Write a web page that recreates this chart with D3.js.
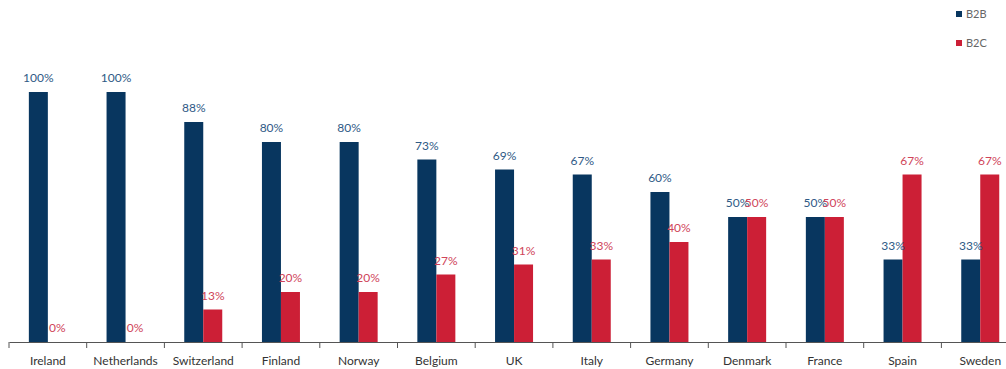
<!DOCTYPE html>
<html>
<head>
<meta charset="utf-8">
<script src="https://cdn.jsdelivr.net/npm/d3@7"></script>
<style>
  html, body { margin: 0; padding: 0; background: #fff; }
  svg { display: block; font-family: Lato, "Open Sans", sans-serif; }
</style>
</head>
<body>
<svg id="chart" width="1006" height="369"></svg>
<script>
// Share of B2B vs B2C by country
const countries = ["Ireland", "Netherlands", "Switzerland", "Finland", "Norway", "Belgium", "UK", "Italy", "Germany", "Denmark", "France", "Spain", "Sweden"];
const seriesNames = ["B2B", "B2C"];
const b2bValues = [100, 100, 88, 80, 80, 73, 69, 67, 60, 50, 50, 33, 33];
const b2cValues = [0, 0, 13, 20, 20, 27, 31, 33, 40, 50, 50, 67, 67];

const colors = { B2B: "#08365f", B2C: "#cc1f36" };
const labelColors = { B2B: "#2f5a86", B2C: "#d0455a" };

const svg = d3.select("#chart");
const rows = countries.map((c, i) => ({ country: c, B2B: b2bValues[i], B2C: b2cValues[i] }));

const step = 77.7;
const x0 = d3.scaleBand().domain(countries).range([9, 9 + step * countries.length]).paddingInner(0).paddingOuter(0);
const barW = 19;
const x1 = d3.scaleBand().domain(seriesNames)
  .range([x0.bandwidth() / 2 - barW, x0.bandwidth() / 2 + barW]).padding(0);
const y = d3.scaleLinear().domain([0, 100]).range([342, 92]);

// category axis along the bottom
const axis = d3.axisBottom(x0).tickSize(0).tickPadding(14);
const gAxis = svg.append("g").attr("transform", "translate(0,342)").call(axis);
gAxis.select(".domain").attr("stroke", "#555").attr("stroke-width", 1);
gAxis.selectAll(".tick text").attr("font-size", 12).attr("fill", "#333")
  .attr("font-family", "Lato, 'Open Sans', sans-serif");

// boundary ticks between categories
const bounds = countries.map(c => x0(c)).concat([x0.range()[1]]);
gAxis.selectAll("line.sep").data(bounds).join("line")
  .attr("class", "sep")
  .attr("x1", d => d).attr("x2", d => d)
  .attr("y1", 0).attr("y2", 6)
  .attr("stroke", "#555");

// bars
const groups = svg.append("g").selectAll("g").data(rows).join("g")
  .attr("transform", d => `translate(${x0(d.country)},0)`);

groups.selectAll("rect").data(d => seriesNames.map(s => ({ s, v: d[s] }))).join("rect")
  .attr("x", d => x1(d.s))
  .attr("width", x1.bandwidth())
  .attr("y", d => y(d.v))
  .attr("height", d => y(0) - y(d.v))
  .attr("fill", d => colors[d.s]);

// value labels
groups.selectAll("text.val").data(d => seriesNames.map(s => ({ s, v: d[s] }))).join("text")
  .attr("class", "val")
  .attr("x", d => x1(d.s) + x1.bandwidth() / 2)
  .attr("y", d => y(d.v) - 10)
  .attr("text-anchor", "middle")
  .attr("font-size", 12)
  .attr("fill", d => labelColors[d.s])
  .text(d => d.v + "%");

// legend
const legend = svg.append("g").selectAll("g").data(seriesNames).join("g")
  .attr("transform", (d, i) => `translate(956,${11 + i * 29})`);
legend.append("rect").attr("width", 6).attr("height", 6).attr("fill", d => colors[d]);
legend.append("text").attr("x", 10).attr("y", 6.5).attr("font-size", 11)
  .attr("fill", "#666").text(d => d);
</script>
</body>
</html>
